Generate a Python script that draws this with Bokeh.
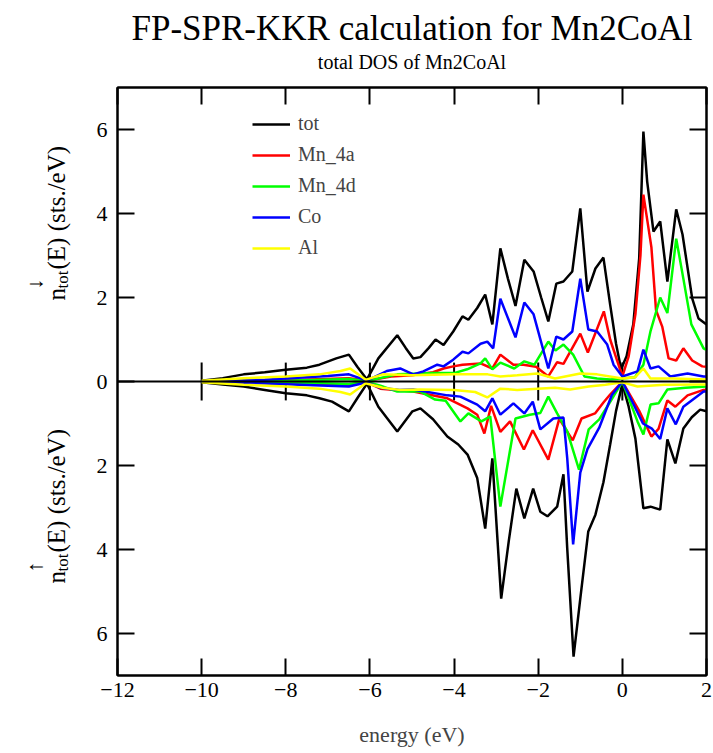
import math
from bokeh.plotting import figure
from bokeh.layouts import row
from bokeh.models import Range1d, FixedTicker, LinearAxis, Label, Span, Legend, LegendItem, Title
from bokeh.embed import file_html
from bokeh.resources import INLINE

# ---------------- data (energy in eV, DOS in states/eV) ----------------
x_ticks = [-12, -10, -8, -6, -4, -2, 0, 2]
y_ticks = [-6, -4, -2, 0, 2, 4, 6]
y_tick_labels = {-6: "6", -4: "4", -2: "2", 0: "0", 2: "2", 4: "4", 6: "6"}
zero_axis_ticks = [-10, -8, -6, -4, -2, 0]

# total, spin down (plotted upward)
e_tot_dn = [-10.0, -9.5, -9.0, -8.5, -8.0, -7.5, -7.2, -6.8, -6.5, -6.3, -6.07, -5.8, -5.35, -5.15, -4.97,
            -4.8, -4.6, -4.44, -4.25, -4.02, -3.8, -3.66, -3.45, -3.26, -3.09, -2.9, -2.72, -2.54, -2.33,
            -2.11, -1.93, -1.76, -1.57, -1.40, -1.19, -1.0, -0.83, -0.64, -0.45, -0.29, -0.15, -0.03, 0.1,
            0.26, 0.40, 0.5, 0.59, 0.74, 0.90, 1.07, 1.28, 1.43, 1.66, 1.81, 2.0]
tot_dn = [0.02, 0.08, 0.17, 0.22, 0.28, 0.33, 0.40, 0.55, 0.64, 0.35, 0.05, 0.55, 1.1, 0.8, 0.55,
          0.58, 0.8, 1.0, 0.87, 1.19, 1.55, 1.47, 1.75, 2.07, 1.36, 3.17, 2.45, 1.8, 2.9,
          2.62, 2.0, 1.43, 2.33, 2.38, 2.62, 4.12, 2.14, 2.69, 2.95, 1.83, 0.9, 0.3, 0.6,
          1.36, 2.93, 5.95, 4.76, 3.57, 3.81, 2.38, 4.1, 3.5, 1.98, 1.5, 1.36]

# total, spin up (plotted downward)
e_tot_up = [-10.0, -9.5, -9.0, -8.5, -8.0, -7.5, -7.2, -6.9, -6.5, -6.3, -6.07, -5.8, -5.35, -4.99, -4.8,
            -4.5, -4.16, -3.9, -3.68, -3.45, -3.26, -3.09, -2.88, -2.7, -2.52, -2.33, -2.12, -1.95, -1.78,
            -1.55, -1.40, -1.31, -1.16, -1.0, -0.81, -0.64, -0.45, -0.29, -0.15, 0.0, 0.15, 0.31, 0.5,
            0.67, 0.9, 1.07, 1.26, 1.45, 1.65, 1.85, 2.0]
tot_up = [0.02, 0.07, 0.12, 0.2, 0.28, 0.33, 0.40, 0.48, 0.71, 0.4, 0.05, 0.6, 1.19, 0.71, 0.64,
          0.9, 1.31, 1.5, 1.74, 2.3, 3.5, 1.83, 5.17, 3.8, 2.55, 3.26, 2.55, 3.1, 3.21,
          2.98, 2.21, 3.98, 6.55, 5.17, 3.57, 3.17, 2.4, 1.5, 0.7, 0.05, 0.6, 1.36, 3.02,
          2.98, 3.05, 1.38, 1.95, 1.12, 0.85, 0.67, 0.71]

# Mn_4a
e_mn4a_dn = [-10.0, -8.0, -6.5, -6.07, -5.5, -5.0, -4.5, -4.25, -4.02, -3.8, -3.37, -3.09, -2.9, -2.59,
             -2.35, -2.05, -1.76, -1.55, -1.4, -1.0, -0.82, -0.44, -0.29, 0.0, 0.15, 0.31, 0.43, 0.5,
             0.69, 0.8, 0.95, 1.1, 1.28, 1.45, 1.66, 1.9, 2.0]
mn4a_dn = [0.0, 0.03, 0.08, 0.02, 0.12, 0.15, 0.22, 0.31, 0.36, 0.40, 0.43, 0.31, 0.64, 0.40,
           0.40, 0.35, 0.12, 0.46, 0.42, 1.14, 0.69, 1.67, 1.0, 0.12, 0.6, 1.6, 3.0, 4.45,
           3.2, 1.7, 1.3, 0.55, 0.5, 0.79, 0.5, 0.36, 0.35]
e_mn4a_up = [-10.0, -8.0, -6.5, -6.07, -5.75, -4.97, -4.16, -3.68, -3.45, -3.28, -3.12, -2.9, -2.67,
             -2.34, -2.13, -1.76, -1.5, -1.18, -0.97, -0.65, -0.45, -0.29, 0.0, 0.4, 0.69, 0.86, 1.07,
             1.26, 1.55, 1.93, 2.0]
mn4a_up = [0.0, 0.03, 0.08, 0.02, 0.17, 0.24, 0.40, 0.64, 0.79, 1.24, 0.58, 1.2, 0.95,
           1.62, 1.16, 1.86, 0.89, 1.4, 0.88, 0.76, 0.5, 0.31, 0.0, 0.7, 1.31, 1.13, 0.45,
           0.6, 0.33, 0.2, 0.2]

# Mn_4d
e_mn4d_dn = [-10.0, -8.0, -6.5, -6.07, -5.35, -4.5, -4.0, -3.69, -3.37, -3.26, -3.09, -2.9, -2.57, -2.33,
             -2.09, -1.76, -1.59, -1.4, -1.17, -0.9, -0.6, -0.29, 0.0, 0.3, 0.5, 0.67, 0.9, 1.07, 1.28,
             1.45, 1.64, 1.93, 2.0]
mn4d_dn = [0.0, 0.02, 0.06, 0.01, 0.17, 0.2, 0.2, 0.29, 0.43, 0.55, 0.29, 0.45, 0.31, 0.48,
           0.40, 0.95, 0.74, 0.88, 0.64, 0.12, 0.07, 0.05, 0.07, 0.1, 0.4, 1.2, 2.0, 1.63, 3.4,
           2.45, 1.36, 0.79, 0.75]
e_mn4d_up = [-10.0, -8.0, -6.5, -6.07, -5.75, -5.35, -4.8, -4.45, -4.2, -3.85, -3.66, -3.35, -3.14, -2.9,
             -2.54, -2.2, -1.95, -1.76, -1.55, -1.31, -1.03, -0.8, -0.55, -0.3, 0.0, 0.36, 0.5, 0.67,
             0.86, 1.07, 1.5, 2.0]
mn4d_up = [0.0, 0.02, 0.06, 0.01, 0.1, 0.24, 0.24, 0.43, 0.46, 0.95, 0.76, 0.95, 0.83, 2.98,
           0.88, 0.79, 0.75, 0.36, 0.76, 1.19, 2.1, 1.14, 0.9, 0.5, 0.0, 0.95, 1.26, 0.55,
           0.52, 0.19, 0.15, 0.12]

# Co
e_co_dn = [-10.0, -8.5, -7.0, -6.5, -6.07, -5.6, -5.28, -4.97, -4.73, -4.4, -4.25, -4.02, -3.8, -3.66,
           -3.37, -3.21, -3.07, -2.9, -2.54, -2.33, -2.11, -1.76, -1.57, -1.40, -1.19, -1.0, -0.81, -0.6,
           -0.36, -0.21, 0.0, 0.36, 0.5, 0.67, 0.86, 1.14, 1.55, 1.93, 2.0]
co_dn = [0.0, 0.04, 0.13, 0.17, 0.02, 0.25, 0.31, 0.17, 0.24, 0.4, 0.36, 0.52, 0.71, 0.67,
         0.9, 0.95, 0.79, 1.97, 1.05, 1.88, 1.6, 0.31, 1.07, 1.0, 1.19, 2.45, 1.24, 1.19,
         0.88, 0.4, 0.12, 0.24, 0.76, 0.31, 0.36, 0.12, 0.19, 0.12, 0.12]
e_co_up = [-10.0, -8.5, -7.0, -6.5, -6.07, -5.75, -5.3, -4.97, -4.16, -3.85, -3.45, -3.26, -3.09, -2.9,
           -2.59, -2.33, -2.13, -1.95, -1.64, -1.4, -1.31, -1.17, -1.0, -0.83, -0.55, -0.25, 0.0, 0.49,
           0.7, 0.9, 1.07, 1.27, 1.45, 1.93, 2.0]
co_up = [0.0, 0.05, 0.1, 0.12, 0.02, 0.15, 0.2, 0.19, 0.33, 0.36, 0.55, 0.71, 0.4, 0.79,
         0.52, 0.76, 0.48, 1.14, 0.88, 0.86, 1.83, 3.88, 2.17, 1.61, 1.1, 0.32, 0.0, 1.0,
         1.12, 1.37, 0.64, 1.02, 0.6, 0.24, 0.24]

# Al
e_al_dn = [-10.0, -9.0, -8.0, -7.2, -6.7, -6.47, -6.1, -5.7, -5.0, -4.0, -3.2, -2.9, -2.5, -2.02,
           -1.6, -1.0, -0.6, -0.3, 0.0, 0.3, 0.5, 0.67, 1.2, 2.0]
al_dn = [0.02, 0.08, 0.12, 0.17, 0.25, 0.31, 0.04, 0.17, 0.15, 0.17, 0.17, 0.12, 0.15, 0.19,
         0.07, 0.19, 0.17, 0.12, 0.07, 0.1, 0.31, 0.07, 0.07, 0.05]
e_al_up = [-10.0, -9.0, -8.0, -7.2, -6.7, -6.47, -6.1, -5.7, -5.28, -4.8, -4.0, -3.5, -3.21, -2.9,
           -2.5, -2.02, -1.6, -1.24, -0.8, -0.4, 0.0, 0.36, 1.0, 2.0]
al_up = [0.02, 0.08, 0.12, 0.17, 0.25, 0.31, 0.04, 0.15, 0.2, 0.19, 0.2, 0.25, 0.38, 0.17,
         0.2, 0.17, 0.15, 0.19, 0.12, 0.08, 0.02, 0.12, 0.08, 0.07]

series_names = ["tot", "Mn_4a", "Mn_4d", "Co", "Al"]
series_colors = ["#000000", "#ff0000", "#00ff00", "#0000ff", "#ffff00"]

# ---------------- page geometry ----------------
W, H = 713, 753
LEFT_W = 87                           # width of the y-label strip
FL, FR, FT, FB = 117, 706, 87, 675    # frame edges on the page
X0, X1, Y0, Y1 = -12, 2, -7, 7
FONT = "Liberation Serif"

# ---- y-label strip: its frame spans the same page rows as the plot frame,
#      its data coordinates are page pixels (y downward)
left = figure(width=LEFT_W, height=H, output_backend="svg", toolbar_location=None,
              x_range=Range1d(0, LEFT_W), y_range=Range1d(FB, FT),
              x_axis_type=None, y_axis_type=None, title_location=None,
              min_border_left=0, min_border_right=0, min_border_top=FT, min_border_bottom=H - FB)
left.grid.visible = False
left.outline_line_color = None
left.background_fill_color = "white"
left.border_fill_color = "white"


def add_vtext(text, x, y, size):
    left.add_layout(Label(x=x, y=y, text=text, angle=math.pi / 2,
                          text_font=FONT, text_font_size=size, text_color="black",
                          text_align="left", text_baseline="alphabetic"))


for arrow, start in (("\u2193", 300), ("\u2191", 583)):
    add_vtext("n", 56, start, "25px")
    add_vtext(arrow, 34, start - 11, "22px")
    add_vtext("tot", 62, start - 12, "17px")
    add_vtext("(E) (sts./eV)", 56, start - 31, "25px")

# ---- main plot
p = figure(width=W - LEFT_W, height=H, output_backend="svg", toolbar_location=None,
           x_range=Range1d(X0, X1), y_range=Range1d(Y0, Y1), title_location=None,
           min_border_left=FL - LEFT_W, min_border_right=W - FR,
           min_border_top=FT, min_border_bottom=H - FB)
p.grid.visible = False
p.outline_line_color = "black"
p.outline_line_width = 2
p.background_fill_color = "white"
p.border_fill_color = "white"


def style_axis(ax, labels=True):
    ax.major_tick_in = 17
    ax.major_tick_out = 0
    ax.minor_tick_line_color = None
    ax.major_tick_line_width = 2
    ax.major_tick_line_color = "black"
    ax.axis_line_width = 2
    ax.axis_line_color = "black"
    ax.major_label_text_font = FONT
    ax.major_label_text_color = "black"
    ax.major_label_text_font_size = "22px"
    if not labels:
        ax.major_label_text_alpha = 0
        ax.major_label_standoff = 0


p.xaxis.ticker = FixedTicker(ticks=x_ticks)
p.yaxis.ticker = FixedTicker(ticks=y_ticks)
p.yaxis.major_label_overrides = y_tick_labels
style_axis(p.xaxis[0])
style_axis(p.yaxis[0])
p.xaxis.major_label_standoff = 7
p.yaxis.major_label_standoff = 10
p.xaxis.axis_label = "energy (eV)"
p.xaxis.axis_label_text_font = FONT
p.xaxis.axis_label_text_font_style = "normal"
p.xaxis.axis_label_text_font_size = "22px"
p.xaxis.axis_label_standoff = 22

ax_r = LinearAxis(ticker=FixedTicker(ticks=y_ticks), major_label_overrides={t: "" for t in y_ticks})
style_axis(ax_r, labels=False)
p.add_layout(ax_r, "right")
ax_t = LinearAxis(ticker=FixedTicker(ticks=x_ticks), major_label_overrides={t: "" for t in x_ticks})
style_axis(ax_t, labels=False)
p.add_layout(ax_t, "above")

# titles (the first one added sits nearest the frame)
sub_title = Title(text="total DOS of Mn2CoAl", align="center", text_font=FONT,
                  text_font_size="20px", text_font_style="normal", text_color="black",
                  standoff=30)
main_title = Title(text="FP-SPR-KKR calculation for Mn2CoAl", align="center", text_font=FONT,
                   text_font_size="35px", text_font_style="normal", text_color="black",
                   standoff=0)
try:
    main_title.standoff = -28
except Exception:
    sub_title.standoff = 12
p.add_layout(sub_title, "above")
p.add_layout(main_title, "above")

# zero line with its crossing ticks
p.add_layout(Span(location=0, dimension="width", line_color="black", line_width=2))
p.segment(x0=zero_axis_ticks, y0=[-0.45] * len(zero_axis_ticks),
          x1=zero_axis_ticks, y1=[0.45] * len(zero_axis_ticks),
          line_color="black", line_width=2)

# curves
pairs = [
    (e_tot_dn, tot_dn, e_tot_up, tot_up),
    (e_mn4a_dn, mn4a_dn, e_mn4a_up, mn4a_up),
    (e_mn4d_dn, mn4d_dn, e_mn4d_up, mn4d_up),
    (e_co_dn, co_dn, e_co_up, co_up),
    (e_al_dn, al_dn, e_al_up, al_up),
]
items = []
for (ed, vd, eu, vu), name, col in zip(pairs, series_names, series_colors):
    r1 = p.line(ed, vd, line_color=col, line_width=2.5)
    p.line(eu, [-v for v in vu], line_color=col, line_width=2.5)
    items.append(LegendItem(label=name, renderers=[r1]))

frame_h = FB - FT
leg = Legend(items=items, location=(135, frame_h - 25 - 142 - 5),
             label_text_font=FONT, label_text_font_size="20px",
             glyph_width=38, glyph_height=22, label_height=22, spacing=8,
             padding=0, margin=0, label_standoff=8,
             border_line_color=None, background_fill_alpha=0)
p.add_layout(leg)

page = row(left, p, spacing=0)
open("out.html", "w").write(file_html(page, INLINE))
